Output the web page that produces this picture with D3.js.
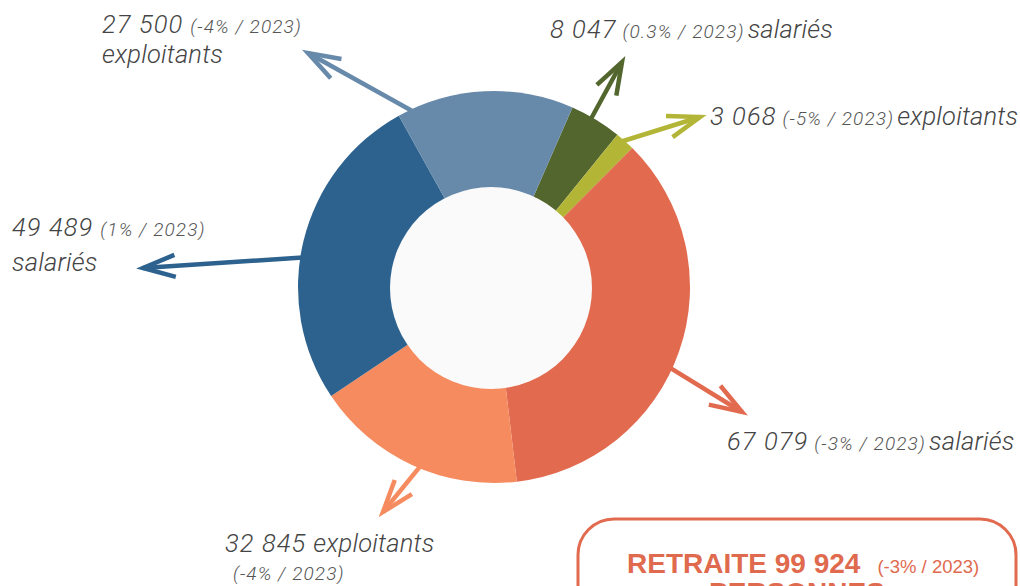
<!DOCTYPE html>
<html>
<head>
<meta charset="utf-8">
<script src="https://cdn.jsdelivr.net/npm/d3@7"></script>
<style>
  body { margin: 0; background: #fff; }
  svg { display: block; }
  .chiffre { font-family: Roboto, "Liberation Sans", sans-serif; font-weight: 300; font-style: italic; fill: #444; }
  .nb { font-size: 25.5px; letter-spacing: 1.1px; }
  .mot { font-size: 25.5px; letter-spacing: 0.2px; }
  .evol { fill: #555; font-size: 19px; letter-spacing: 1.1px; }
  .encadre { font-family: "Liberation Sans", Roboto, sans-serif; fill: #e06a4e; }
</style>
</head>
<body>
<div id="graf"></div>
<script>
// donnees (sens horaire, a partir du vert fonce)
const types = ["salariés", "exploitants", "salariés", "exploitants", "salariés", "exploitants"];
const valeurs = [8047, 3068, 67079, 32845, 49489, 27500];
const evolutions = ["0.3%", "-5%", "-3%", "-4%", "1%", "-4%"];
const anneeRef = "2023";
const couleurs = ["#52662d", "#b3b536", "#e16a4f", "#f58b5f", "#2d628e", "#688aaa"];
const indicesRetraite = [2, 3];
const evolRetraite = "-3%";

// mise en page des annotations
const fleches = [
  { angle: 30, tip: [622, 62] },
  { angle: 40.6, tip: [700, 117] },
  { angle: 114.5, tip: [742, 412] },
  { angle: 202, tip: [383, 512] },
  { angle: 279, tip: [143, 268] },
  { angle: 336, tip: [308, 53] }
];
const etiquettes = [
  { x: 550, y: 38, forme: "ligne" },
  { x: 710, y: 125, forme: "ligne" },
  { x: 727, y: 450, forme: "ligne" },
  { x: 225, y: 552, forme: "type", x2: 233, y2: 580 },
  { x: 12, y: 236, forme: "evol", x2: 12, y2: 271 },
  { x: 102, y: 33, forme: "evol", x2: 102, y2: 63 }
];

const dim = { largeur: 1020, hauteur: 586, cx: 494, cy: 287, rExt: 196, rInt: 101 };
const rad = d => d * Math.PI / 180;

const loc = d3.formatLocale({ decimal: ",", thousands: " ", grouping: [3], currency: ["", " €"] });
const fmt = loc.format(",d");

const svg = d3.select("#graf").append("svg")
  .attr("width", dim.largeur)
  .attr("height", dim.hauteur);

const pie = d3.pie().sort(null)
  .startAngle(rad(23.6))
  .endAngle(rad(23.6) + 2 * Math.PI);
const arc = d3.arc().innerRadius(0).outerRadius(dim.rExt);

// fleches (sous l'anneau)
const flechesG = svg.append("g");
fleches.forEach((f, i) => {
  const a = rad(f.angle);
  const r = dim.rExt - 6;
  const x0 = dim.cx + r * Math.sin(a), y0 = dim.cy - r * Math.cos(a);
  const [x1, y1] = f.tip;
  const dir = Math.atan2(y1 - y0, x1 - x0);
  const L = 34, ouv = rad(19);
  const bras = [dir + Math.PI - ouv, dir + Math.PI + ouv].map(t => [x1 + L * Math.cos(t), y1 + L * Math.sin(t)]);
  flechesG.append("line")
    .attr("x1", x0).attr("y1", y0).attr("x2", x1).attr("y2", y1)
    .attr("stroke", couleurs[i]).attr("stroke-width", 4.5);
  flechesG.append("path")
    .attr("d", d3.line()([bras[0], [x1, y1], bras[1]]))
    .attr("fill", "none")
    .attr("stroke", couleurs[i]).attr("stroke-width", 4.5)
    .attr("stroke-linejoin", "miter");
});

const anneau = svg.append("g")
  .attr("transform", `translate(${dim.cx},${dim.cy})`);

anneau.selectAll("path")
  .data(pie(valeurs))
  .join("path")
  .attr("d", arc)
  .attr("fill", (d, i) => couleurs[i]);

svg.append("circle")
  .attr("cx", dim.cx - 3).attr("cy", dim.cy + 1)
  .attr("r", dim.rInt)
  .attr("fill", "#fafafa");

// etiquettes
const etiqG = svg.append("g");
etiquettes.forEach((e, i) => {
  const t = etiqG.append("text").attr("class", "chiffre")
    .attr("x", e.x).attr("y", e.y);
  t.append("tspan").attr("class", "nb").text(fmt(valeurs[i]));
  const evTxt = `(${evolutions[i]} / ${anneeRef})`;
  if (e.forme === "ligne") {
    t.append("tspan").attr("class", "evol").attr("dx", 6).text(evTxt);
    t.append("tspan").attr("class", "mot").attr("dx", 3).text(types[i]);
  } else if (e.forme === "evol") {
    t.append("tspan").attr("class", "evol").attr("dx", 7).text(evTxt);
    etiqG.append("text").attr("class", "chiffre mot")
      .attr("x", e.x2).attr("y", e.y2).text(types[i]);
  } else {
    t.append("tspan").attr("class", "mot").attr("dx", 7).text(types[i]);
    etiqG.append("text").attr("class", "chiffre evol")
      .attr("x", e.x2).attr("y", e.y2).text(evTxt);
  }
});

// encadre retraite
const totalRetraite = d3.sum(indicesRetraite, i => valeurs[i]);
svg.append("rect")
  .attr("x", 578).attr("y", 519)
  .attr("width", 438).attr("height", 120)
  .attr("rx", 36)
  .attr("fill", "#fff")
  .attr("stroke", "#e16a4f").attr("stroke-width", 3);
const tr = svg.append("text").attr("class", "encadre")
  .attr("x", 627).attr("y", 573);
tr.append("tspan").attr("font-weight", "bold").attr("font-size", 28)
  .text(`RETRAITE ${fmt(totalRetraite)}`);
tr.append("tspan").attr("dx", 17).attr("font-size", 18.5)
  .text(`(${evolRetraite} / ${anneeRef})`);
svg.append("text").attr("class", "encadre")
  .attr("x", 797).attr("y", 602)
  .attr("text-anchor", "middle")
  .attr("font-weight", "bold").attr("font-size", 28)
  .text("PERSONNES");
</script>
</body>
</html>
